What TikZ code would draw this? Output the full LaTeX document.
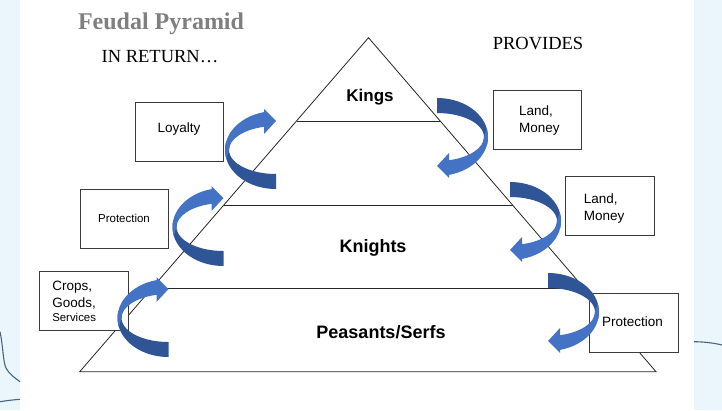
\documentclass[tikz,border=0pt]{standalone}
\usepackage{fontspec}
\setmainfont{Liberation Sans}
\newfontfamily\serifx{Liberation Serif}
\definecolor{bgblue}{RGB}{235,245,252}
\definecolor{arrlight}{HTML}{4472C4}
\definecolor{arrdark}{HTML}{2F5597}
\definecolor{deco}{HTML}{46657F}
\definecolor{titlegray}{HTML}{7F7F7F}
\definecolor{boxline}{HTML}{3A3A3A}
\tikzset{
  lbl/.style={inner sep=0pt, outer sep=0pt},
  lvlname/.style={lbl, anchor=base, font=\bfseries\fontsize{18}{21}\selectfont},
  boxtxt/.style={lbl, font=\fontsize{13.5}{16}\selectfont},
  smalltxt/.style={lbl, font=\fontsize{11.5}{14}\selectfont},
  headtxt/.style={lbl, anchor=base, font=\serifx\fontsize{18.5}{22}\selectfont},
  lvlbox/.style={draw=boxline, line width=0.9pt, fill=white, minimum width=88.6pt, minimum height=59pt, anchor=north west, inner sep=0pt},
  pyr/.style={draw=black!85, line width=0.8pt},
  decoline/.style={draw=deco, line width=1.1pt},
  curvarrow/.pic={
    \begin{scope}[yscale=-1]
      \fill[arrdark] (0,-39) arc[start angle=270,end angle=170,x radius=51,y radius=39]
        -- ({47*cos(170)},{24*sin(170)}) arc[start angle=170,end angle=270,x radius=47,y radius=24] -- cycle;
      \fill[arrlight] ({51*cos(193)},{39*sin(193)}) arc[start angle=193,end angle=103.6,x radius=51,y radius=39]
        -- (-12,41) -- (0,29) -- (-12,16) -- (-12,23.2)
        arc[start angle=104.8,end angle=180,x radius=47,y radius=24] -- cycle;
    \end{scope}
  }
}
\begin{document}
\begin{tikzpicture}[x=1pt,y=-1pt]
\useasboundingbox (0,0) rectangle (722,410);
\fill[bgblue] (0,0) rectangle (722,410);
\fill[white] (20,0) rectangle (694,410);
% decorative lines
\draw[decoline] (0,331.7) .. controls (3,345) and (3,362) .. (6,368) .. controls (9,374) and (15,378) .. (20,381.7);
\draw[decoline] (0,401.7) .. controls (7,400.5) and (14,399.8) .. (20,399.3);
\draw[decoline] (694,341.7) .. controls (704,341.8) and (714,343) .. (722,345);
% pyramid
\coordinate (apex) at (368.5,37.7);
\coordinate (bl) at (79.7,371.7);
\coordinate (br) at (656,371.7);
\draw[pyr] (apex) -- (bl) -- (br) -- cycle;
\coordinate (l1a) at (296.5,121);   \coordinate (l1b) at (440.2,121);
\coordinate (l2a) at (223.8,205);   \coordinate (l2b) at (512.5,205);
\coordinate (l3a) at (151.5,288.7); \coordinate (l3b) at (584.6,288.7);
\draw[pyr] (l1a) -- (l1b);
\draw[pyr] (l2a) -- (l2b);
\draw[pyr] (l3a) -- (l3b);
% boxes
\node[lvlbox] (loyaltybox) at (134.5,101.7) {};
\node[lvlbox] (protlbox) at (79.7,189.3) {};
\node[lvlbox] (cropsbox) at (39,270.5) {};
\node[lvlbox] (lm1box) at (492.5,89.5) {};
\node[lvlbox] (lm2box) at (565,176.3) {};
\node[lvlbox] (protrbox) at (589,293.3) {};
% arrows
\pic (a1) at (276,150) {curvarrow};
\pic (a2) at (223.5,227) {curvarrow};
\pic (a3) at (168.5,318) {curvarrow};
\pic[rotate=180] (a4) at (437,137) {curvarrow};
\pic[rotate=180] (a5) at (510,221) {curvarrow};
\pic[rotate=180] (a6) at (548,312) {curvarrow};
% texts
\node[lbl, anchor=base, text=titlegray, font=\serifx\bfseries\fontsize{24}{28}\selectfont] (title) at (161,29.3) {Feudal Pyramid};
\node[headtxt] (inreturn) at (160,62.3) {IN RETURN…};
\node[headtxt] (provides) at (538,49) {PROVIDES};
\node[lvlname, font=\bfseries\fontsize{17}{20}\selectfont] (kings) at (370,101.7) {Kings};
\node[lvlname] (knights) at (373,252) {Knights};
\node[lvlname] (peasants) at (381,338.5) {Peasants/Serfs};
\node[boxtxt, anchor=base] (loyalty) at (179,132) {Loyalty};
\node[smalltxt, anchor=base] (protl) at (124,222) {Protection};
\node[boxtxt, anchor=base west] (crops) at (52.3,290.7) {Crops,};
\node[boxtxt, anchor=base west] (goods) at (52.3,307.3) {Goods,};
\node[smalltxt, anchor=base west, font=\fontsize{11.4}{14}\selectfont] (services) at (52.3,321) {Services};
\node[boxtxt, anchor=base west] (land1) at (519,115) {Land,};
\node[boxtxt, anchor=base west] (money1) at (519,132.7) {Money};
\node[boxtxt, anchor=base west] (land2) at (583.8,203.5) {Land,};
\node[boxtxt, anchor=base west] (money2) at (583.8,220) {Money};
\node[boxtxt, anchor=base west] (protr) at (602,326.5) {Protection};
\end{tikzpicture}
\end{document}
